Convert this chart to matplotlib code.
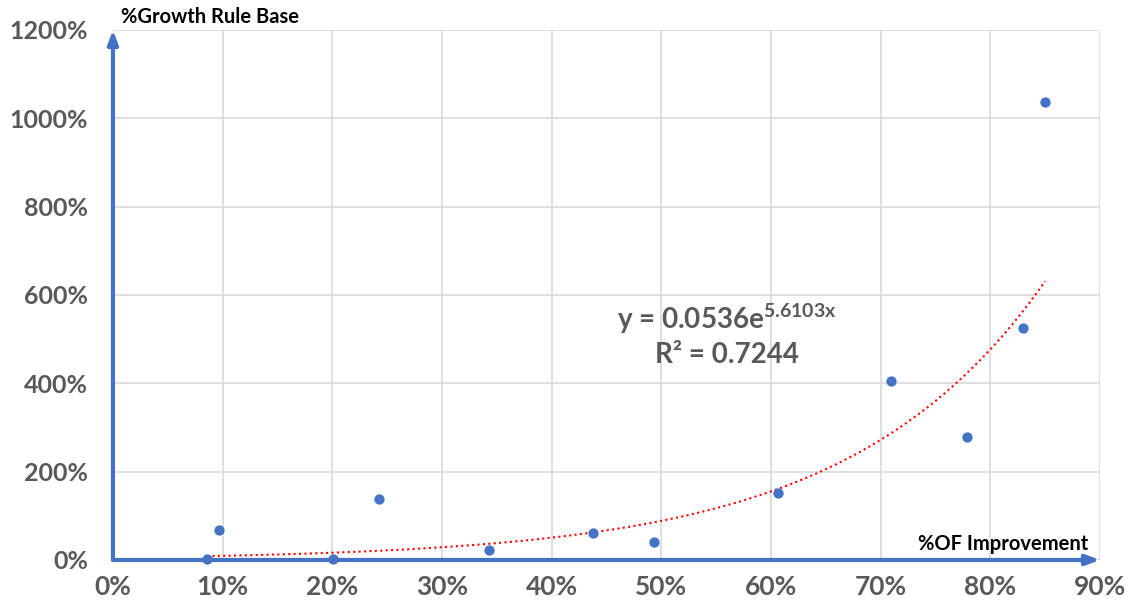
import numpy as np
import matplotlib
matplotlib.use("Agg")
import matplotlib.pyplot as plt
from matplotlib.ticker import FuncFormatter

# OF improvement (fraction) vs. growth of rule base (fraction)
of_improvement = [0.0857, 0.0966, 0.2005, 0.243, 0.343, 0.438, 0.493, 0.606, 0.709, 0.779, 0.830, 0.850]
growth_rule_base = [0.02, 0.68, 0.03, 1.38, 0.22, 0.61, 0.41, 1.52, 4.05, 2.79, 5.25, 10.37]

# Exponential trendline y = a * exp(b x)
trend_a = 0.0536
trend_b = 5.6103
trend_r2 = 0.7244

x_ticks = [0.0, 0.1, 0.2, 0.3, 0.4, 0.5, 0.6, 0.7, 0.8, 0.9]
y_ticks = [0, 2, 4, 6, 8, 10, 12]

blue = "#4472C4"
grey_text = "#595959"
grid_col = "#D9D9D9"

plt.rcParams["font.family"] = ["Lato", "DejaVu Sans"]
plt.rcParams["mathtext.fontset"] = "custom"
plt.rcParams["mathtext.rm"] = "Lato:bold"
plt.rcParams["mathtext.default"] = "rm"

fig = plt.figure(figsize=(11.33, 6.12), dpi=100)
ax = fig.add_axes([0.0997, 0.085, 0.8712, 0.866])

ax.set_xlim(0, 0.9)
ax.set_ylim(0, 12)
ax.set_xticks(x_ticks)
ax.set_yticks(y_ticks)
ax.xaxis.set_major_formatter(FuncFormatter(lambda v, p: f"{v*100:.0f}%"))
ax.yaxis.set_major_formatter(FuncFormatter(lambda v, p: f"{v*100:.0f}%"))
ax.grid(True, color=grid_col, linewidth=1.2)
ax.set_axisbelow(True)
for s in ax.spines.values():
    s.set_visible(False)
ax.tick_params(length=0, labelcolor=grey_text)
ax.tick_params(axis="y", pad=18, labelsize=18)
ax.tick_params(axis="x", pad=11, labelsize=19)
for lab in ax.get_xticklabels() + ax.get_yticklabels():
    lab.set_fontweight("bold")

# Trendline over the data range
xt = np.linspace(min(of_improvement), max(of_improvement), 300)
yt = trend_a * np.exp(trend_b * xt)
ax.plot(xt, yt, color="#FF0000", linestyle=(0, (1, 1.6)), linewidth=1.5, zorder=3)

ax.scatter(of_improvement, growth_rule_base, s=55, color=blue, zorder=7,
           linewidths=0, clip_on=False)

# Axis arrows
arrow = dict(arrowstyle="-|>,head_length=0.8,head_width=0.3", color=blue, lw=3,
             shrinkA=0, shrinkB=0)
ax.annotate("", xy=(0.0, 1.0), xytext=(0.0, 0.0), xycoords="axes fraction",
            arrowprops=arrow, annotation_clip=False, zorder=5)
ax.annotate("", xy=(1.0, 0.0), xytext=(0.0, 0.0), xycoords="axes fraction",
            arrowprops=arrow, annotation_clip=False, zorder=5)

ax.text(0.008, 1.005, "%Growth Rule Base", transform=ax.transAxes, fontsize=14.5,
        fontweight="bold", color="black", ha="left", va="bottom")
ax.text(0.988, 0.012, "%OF Improvement", transform=ax.transAxes, fontsize=14.5,
        fontweight="bold", color="black", ha="right", va="bottom")

ax.text(0.56, 5.45, f"y = {trend_a}e$^{{{trend_b}x}}$", fontsize=20, fontweight="bold",
        color=grey_text, ha="center", va="center")
ax.text(0.56, 4.65, f"R² = {trend_r2}", fontsize=20, fontweight="bold",
        color=grey_text, ha="center", va="center")

fig.savefig("out.png", dpi=100)
